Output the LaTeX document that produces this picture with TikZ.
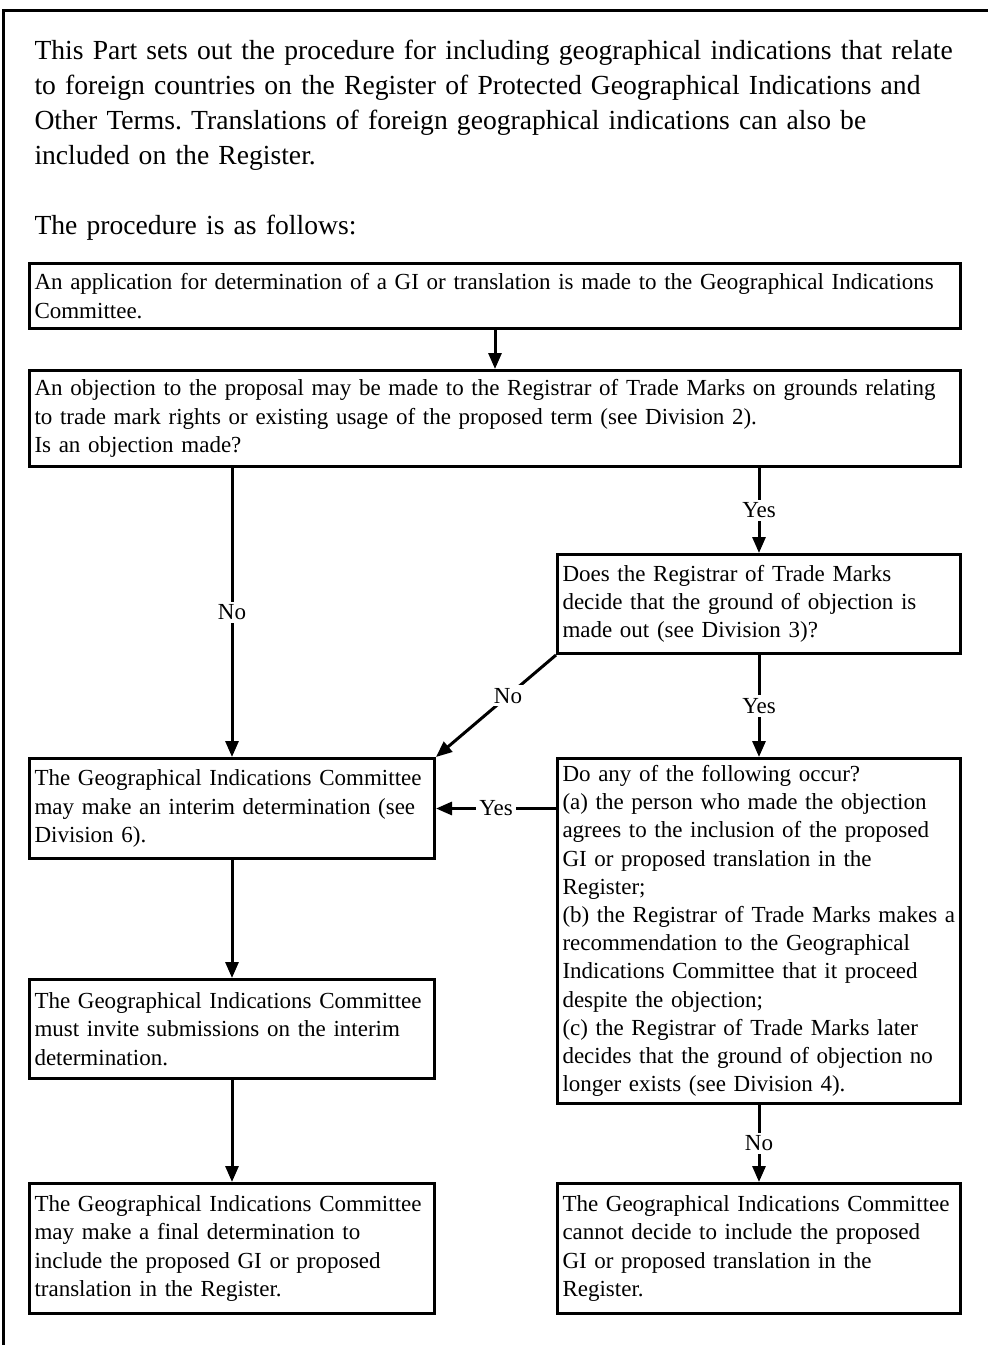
\documentclass[tikz,border=0pt]{standalone}
\usepackage{fontspec}
\setmainfont{Liberation Serif}
\frenchspacing
\usetikzlibrary{arrows.meta}

\begin{document}
\begin{tikzpicture}[x=0.5pt,y=-0.5pt,>={Triangle[length=8pt,width=6.5pt]},line width=1.5pt,
                    main box/.style={draw,anchor=north west,align=left,inner xsep=2.5pt,inner ysep=3pt,
                                     font=\fontsize{11.5}{14.1}\selectfont},
                    wide box/.style={main box,text width=460.5pt},
                    left box/.style={main box,text width=197.5pt},
                    right box/.style={main box,text width=196.5pt},
                    answer/.style={fill=white,inner sep=1.5pt,font=\fontsize{11.5}{14.1}\selectfont}]
  \useasboundingbox (0,0) rectangle (990,1345);
  % frame: top and left sides only
  \coordinate (frame ne) at (988,10);
  \coordinate (frame nw) at (3,10);
  \coordinate (frame sw) at (3,1345);
  \draw (frame sw) -- (frame nw) -- (frame ne);
  \node[anchor=north west,align=left,inner sep=0pt,text width=475pt,
        font=\fontsize{13.8}{17.5}\selectfont] (intro) at (33,39)
    {This Part sets out the procedure for including geographical indications that relate\\
     to foreign countries on the Register of Protected Geographical Indications and\\
     Other Terms. Translations of foreign geographical indications can also be\\
     included on the Register.\\[17.5pt]
     The procedure is as follows:};
  \node[wide box,minimum height=32.5pt] (apply) at (28,262)
    {An application for determination of a GI or translation is made to the Geographical Indications\\
     Committee.};
  \node[wide box,minimum height=48pt] (object) at (28,369)
    {An objection to the proposal may be made to the Registrar of Trade Marks on grounds relating\\
     to trade mark rights or existing usage of the proposed term (see Division 2).\\
     Is an objection made?};
  \node[right box,minimum height=49.5pt] (madeout) at (556,553)
    {Does the Registrar of Trade Marks\\
     decide that the ground of objection is\\
     made out (see Division 3)?};
  \node[left box,minimum height=50pt] (interim) at (28,757)
    {The Geographical Indications Committee\\
     may make an interim determination (see\\
     Division 6).};
  \node[right box,minimum height=172.5pt] (occur) at (556,757)
    {Do any of the following occur?\\
     (a) the person who made the objection\\
     agrees to the inclusion of the proposed\\
     GI or proposed translation in the\\
     Register;\\
     (b) the Registrar of Trade Marks makes a\\
     recommendation to the Geographical\\
     Indications Committee that it proceed\\
     despite the objection;\\
     (c) the Registrar of Trade Marks later\\
     decides that the ground of objection no\\
     longer exists (see Division 4).};
  \node[left box,minimum height=49.5pt] (invite) at (28,978)
    {The Geographical Indications Committee\\
     must invite submissions on the interim\\
     determination.};
  \node[left box,minimum height=65pt] (final) at (28,1182)
    {The Geographical Indications Committee\\
     may make a final determination to\\
     include the proposed GI or proposed\\
     translation in the Register.};
  \node[right box,minimum height=65pt] (cannot) at (556,1182)
    {The Geographical Indications Committee\\
     cannot decide to include the proposed\\
     GI or proposed translation in the\\
     Register.};
  \path[->]
    (apply) edge (object)
    (object.south -| interim) edge node[answer] {No} (interim)
    (object.south -| madeout) edge node[answer] {Yes} (madeout)
    (madeout.south west) edge node[answer,pos=0.4] {No} (interim.north east)
    (madeout) edge node[answer] {Yes} (occur)
    (occur.west |- interim.east) edge node[answer] {Yes} (interim.east)
    (occur) edge node[answer] {No} (cannot)
    (interim) edge (invite)
    (invite) edge (final)
    ;
\end{tikzpicture}
\end{document}
